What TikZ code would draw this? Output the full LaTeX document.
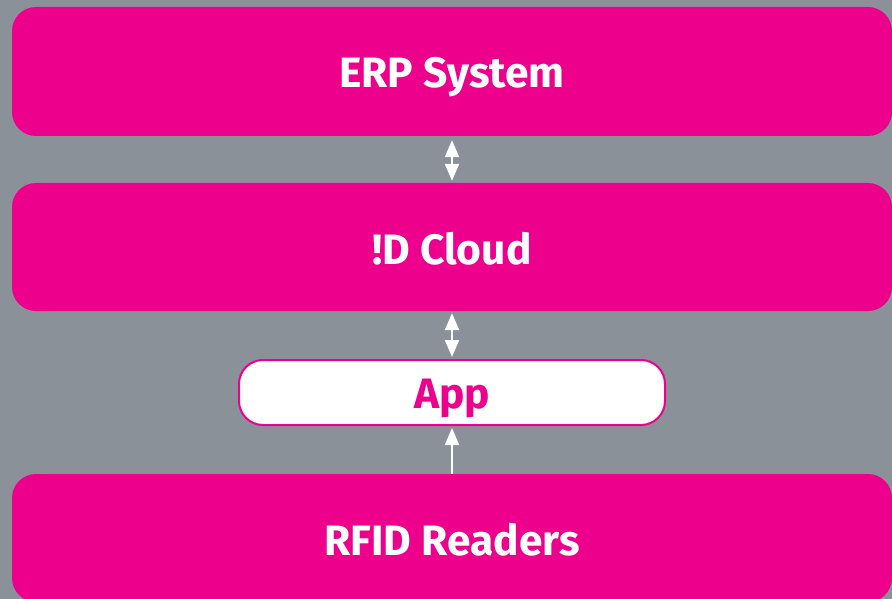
\documentclass[tikz,border=0pt]{standalone}
\usepackage{fontspec}
\setmainfont{Fira Sans}
\usetikzlibrary{arrows.meta}
\definecolor{magbox}{HTML}{EC008C}
\definecolor{bggray}{HTML}{8A9199}
\newcommand{\lowertext}[2]{\raisebox{-#1}[\height][\depth]{#2}}
\begin{document}
\begin{tikzpicture}[x=1pt,y=-1pt,
  bigbox/.style={fill=magbox,draw=none,rounded corners=24pt,minimum width=880pt,text=white,font=\fontsize{42.5}{50}\selectfont\bfseries,inner sep=0pt},
  appbox/.style={fill=white,draw=magbox,line width=2pt,rounded corners=24pt,minimum width=426pt,minimum height=65pt,text=magbox,font=\fontsize{42.5}{50}\selectfont\bfseries,inner sep=0pt},
  link/.style={draw=white,line width=2pt,-{Triangle[width=14pt,length=17pt]}},
  dlink/.style={draw=white,line width=2pt,{Triangle[width=14pt,length=17pt]}-{Triangle[width=14pt,length=17pt]}}]
\useasboundingbox (0,0) rectangle (892,599);
\fill[bggray] (0,0) rectangle (892,599);
\node[bigbox,minimum height=129pt] (erp) at (452,71.5) {\lowertext{6pt}{ERP System}};
\node[bigbox,minimum height=128pt] (cloud) at (452,247) {\lowertext{2pt}{!D Cloud}};
\node[appbox] (app) at (452,392.5) {\lowertext{6pt}{App}};
\node[bigbox,minimum height=128pt] (rfid) at (452,538) {\lowertext{2pt}{RFID Readers}};
\draw[dlink] ([yshift=-4pt]erp.south) -- ([yshift=2pt]cloud.north);
\draw[dlink] ([yshift=-2pt]cloud.south) -- ([yshift=2pt]app.north);
\draw[link] (rfid.north) -- ([yshift=-2pt]app.south);
\end{tikzpicture}
\end{document}
